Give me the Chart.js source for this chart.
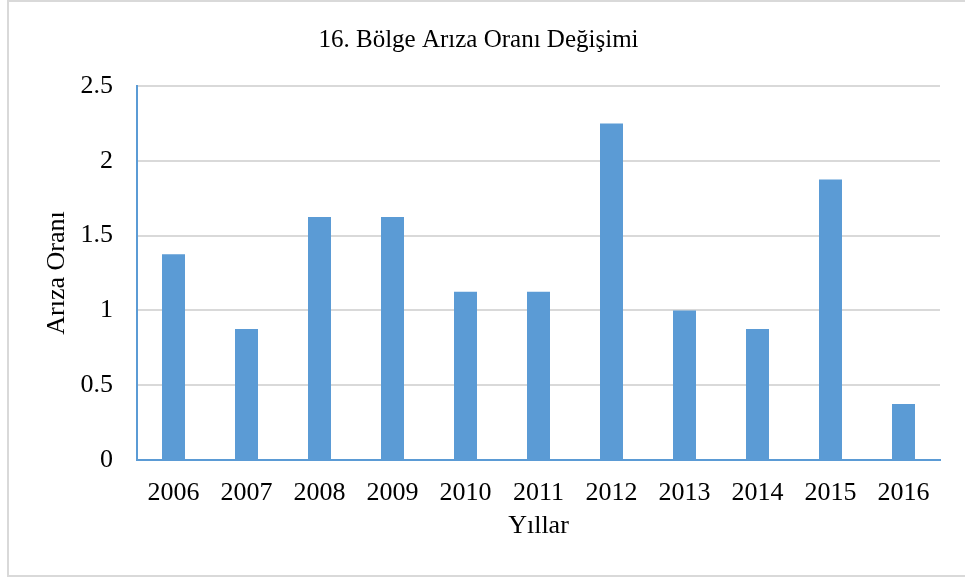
<!DOCTYPE html>
<html>
<head>
<meta charset="utf-8">
<script src="https://cdn.jsdelivr.net/npm/chart.js@4/dist/chart.umd.min.js"></script>
<style>
  html, body { margin: 0; padding: 0; background: #fff; overflow: hidden; }
  .frame { position: absolute; left: 7px; top: 0px; width: 980px; height: 573px; border: 2px solid #d9d9d9; }
  .holder { position: absolute; left: 0; top: 0; width: 965px; height: 581px; }
</style>
</head>
<body>
<div class="frame"></div>
<div class="holder"><canvas id="chart" width="965" height="581"></canvas></div>
<script>
// years and failure rate of region 16
const years = ['2006', '2007', '2008', '2009', '2010', '2011', '2012', '2013', '2014', '2015', '2016'];
const failureRate = [1.375, 0.875, 1.625, 1.625, 1.125, 1.125, 2.25, 1.0, 0.875, 1.875, 0.375];
const yTicks = [0, 0.5, 1, 1.5, 2, 2.5];

const barColor = '#5b9bd5';
const serif = "'Liberation Serif', 'Times New Roman', serif";

new Chart(document.getElementById('chart'), {
    type: 'bar',
    data: {
        labels: years,
        datasets: [{
            label: 'Arıza Oranı',
            data: failureRate,
            backgroundColor: barColor,
            borderWidth: 0,
            barPercentage: 0.315,
            categoryPercentage: 1
        }]
    },
    options: {
        responsive: false,
        animation: false,
        layout: { padding: { left: 17, right: 25, top: 0, bottom: 0 } },
        plugins: {
            legend: { display: false },
            tooltip: { enabled: false },
            title: {
                display: true,
                text: '16. Bölge Arıza Oranı Değişimi',
                color: '#000',
                font: { family: serif, size: 25, weight: 'normal' },
                padding: { top: 25, bottom: 31 }
            }
        },
        scales: {
            x: {
                grid: { display: false, drawTicks: false },
                border: { display: true, color: barColor, width: 2 },
                ticks: { color: '#000', font: { family: serif, size: 26 }, padding: 18, maxRotation: 0 },
                title: {
                    display: true, text: 'Yıllar', color: '#000',
                    font: { family: serif, size: 26 }, padding: { top: 0, bottom: 39 }
                },
                afterFit: (scale) => { scale.height = 121; }
            },
            y: {
                min: 0,
                max: 2.5,
                afterBuildTicks: (scale) => { scale.ticks = yTicks.map(v => ({ value: v })); },
                grid: { color: '#d9d9d9', lineWidth: 2, drawTicks: false },
                border: { display: true, color: barColor, width: 2 },
                ticks: { color: '#000', font: { family: serif, size: 26 }, padding: 24, callback: (v) => String(v) },
                title: {
                    display: true, text: 'Arıza Oranı', color: '#000',
                    font: { family: serif, size: 26 }, padding: { top: 25, bottom: 0 }
                },
                afterFit: (scale) => { scale.width = 120; }
            }
        }
    }
});
</script>
</body>
</html>
